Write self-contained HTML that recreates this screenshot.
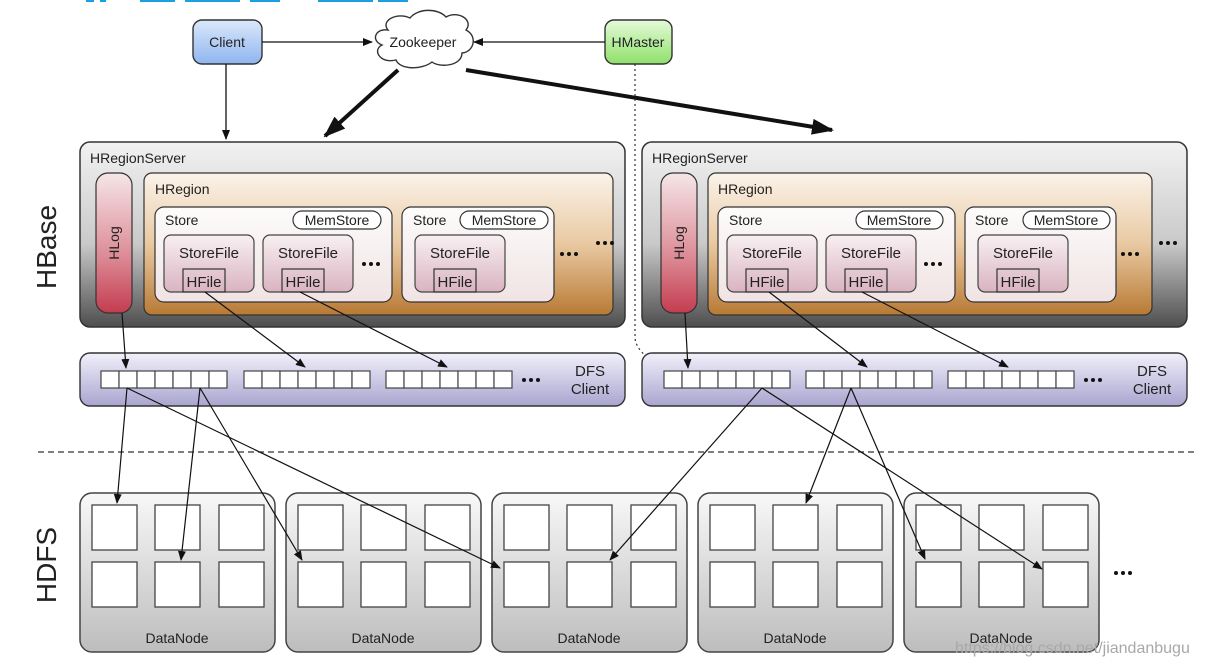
<!DOCTYPE html>
<html><head><meta charset="utf-8"><style>
html,body{margin:0;padding:0;background:#fff;width:1210px;height:665px;overflow:hidden}
svg{display:block}
text{font-family:"Liberation Sans",Arial,sans-serif;fill:#222}
</style></head><body>
<svg width="1210" height="665" viewBox="0 0 1210 665" xmlns="http://www.w3.org/2000/svg">
<defs>
<linearGradient id="gSrv" x1="0" y1="0" x2="0" y2="1"><stop offset="0" stop-color="#f2f2f2"/><stop offset="0.55" stop-color="#c9c9c9"/><stop offset="1" stop-color="#4e4e4e"/></linearGradient>
<linearGradient id="gReg" x1="0" y1="0" x2="0" y2="1"><stop offset="0" stop-color="#fbf3ea"/><stop offset="0.5" stop-color="#e9c9a2"/><stop offset="1" stop-color="#b87a34"/></linearGradient>
<linearGradient id="gLog" x1="0" y1="0" x2="0" y2="1"><stop offset="0" stop-color="#f5e6e8"/><stop offset="0.6" stop-color="#dc8a95"/><stop offset="1" stop-color="#c43c50"/></linearGradient>
<linearGradient id="gStore" x1="0" y1="0" x2="0" y2="1"><stop offset="0" stop-color="#fdfbfb"/><stop offset="1" stop-color="#f0e3e3"/></linearGradient>
<linearGradient id="gSF" x1="0" y1="0" x2="0" y2="1"><stop offset="0" stop-color="#f8f0f2"/><stop offset="1" stop-color="#d9b3c0"/></linearGradient>
<linearGradient id="gDfs" x1="0" y1="0" x2="0" y2="1"><stop offset="0" stop-color="#f1f0fa"/><stop offset="1" stop-color="#a9a5d0"/></linearGradient>
<linearGradient id="gDN" x1="0" y1="0" x2="0" y2="1"><stop offset="0" stop-color="#f8f8f8"/><stop offset="1" stop-color="#bdbdbd"/></linearGradient>
<linearGradient id="gCl" x1="0" y1="0" x2="0" y2="1"><stop offset="0" stop-color="#dbe8fb"/><stop offset="1" stop-color="#8fb5ef"/></linearGradient>
<linearGradient id="gHm" x1="0" y1="0" x2="0" y2="1"><stop offset="0" stop-color="#e5fbd9"/><stop offset="1" stop-color="#8fe06a"/></linearGradient>
<marker id="ah" markerWidth="10" markerHeight="8" refX="9" refY="4" orient="auto" markerUnits="userSpaceOnUse"><path d="M0,0 L10,4 L0,8 z" fill="#111"/></marker>
<marker id="ahb" markerWidth="22" markerHeight="16" refX="20" refY="8" orient="auto" markerUnits="userSpaceOnUse"><path d="M0,0 L22,8 L0,16 z" fill="#111"/></marker>
<g id="dn">
 <rect x="0" y="0" width="195" height="159" rx="12" fill="url(#gDN)" stroke="#444" stroke-width="1.5"/>
 <g fill="#fff" stroke="#444" stroke-width="1.3">
 <rect x="12" y="12" width="45" height="45"/><rect x="75" y="12" width="45" height="45"/><rect x="139" y="12" width="45" height="45"/>
 <rect x="12" y="69" width="45" height="45"/><rect x="75" y="69" width="45" height="45"/><rect x="139" y="69" width="45" height="45"/>
 </g>
 <text x="97" y="150" font-size="14" text-anchor="middle">DataNode</text>
</g>
<g id="cells" fill="#fff" stroke="#444" stroke-width="1.2">
 <rect x="0" y="0" width="18" height="17"/><rect x="18" y="0" width="18" height="17"/><rect x="36" y="0" width="18" height="17"/><rect x="54" y="0" width="18" height="17"/><rect x="72" y="0" width="18" height="17"/><rect x="90" y="0" width="18" height="17"/><rect x="108" y="0" width="18" height="17"/>
</g>
<g id="dots" fill="#111"><circle cx="0" cy="0" r="2"/><circle cx="7" cy="0" r="2"/><circle cx="14" cy="0" r="2"/></g>
<g id="sf">
 <rect x="0" y="0" width="90" height="57" rx="7" fill="url(#gSF)" stroke="#444" stroke-width="1.2"/>
 <text x="45" y="23" font-size="15" text-anchor="middle">StoreFile</text>
 <rect x="19" y="34" width="42" height="23" fill="none" stroke="#333" stroke-width="1.2"/>
 <text x="40" y="52" font-size="15" text-anchor="middle">HFile</text>
</g>
</defs>

<g fill="#1aa0e0"><rect x="86" y="0" width="8" height="2"/><rect x="100" y="0" width="6" height="2"/><rect x="140" y="0" width="35" height="2"/><rect x="185" y="0" width="55" height="2"/><rect x="250" y="0" width="30" height="2"/><rect x="318" y="0" width="55" height="2"/><rect x="378" y="0" width="30" height="2"/></g>

<rect x="193" y="20" width="69" height="44" rx="9" fill="url(#gCl)" stroke="#333" stroke-width="1.4"/>
<text x="227" y="47" font-size="14" text-anchor="middle">Client</text>
<rect x="605" y="20" width="67" height="44" rx="9" fill="url(#gHm)" stroke="#333" stroke-width="1.4"/>
<text x="638" y="47" font-size="14" text-anchor="middle">HMaster</text>
<path d="M388,30 C380,20 398,12 410,18 C418,8 438,8 446,17 C458,10 474,20 466,30 C478,36 474,52 462,53 C462,66 440,68 432,62 C422,70 400,70 396,60 C380,64 372,50 382,45 C370,40 376,28 388,30 z" fill="#fff" stroke="#333" stroke-width="1.4"/>
<text x="423" y="47" font-size="14" text-anchor="middle">Zookeeper</text>

<line x1="262" y1="42" x2="372" y2="42" stroke="#111" stroke-width="1.3" marker-end="url(#ah)"/>
<line x1="605" y1="42" x2="474" y2="42" stroke="#111" stroke-width="1.3" marker-end="url(#ah)"/>
<line x1="226" y1="64" x2="226" y2="139" stroke="#111" stroke-width="1.3" marker-end="url(#ah)"/>
<line x1="398" y1="70" x2="325" y2="136" stroke="#111" stroke-width="4" marker-end="url(#ahb)"/>
<line x1="466" y1="70" x2="832" y2="130" stroke="#111" stroke-width="4" marker-end="url(#ahb)"/>
<path d="M635,64 L635,338 Q636,352 660,366" fill="none" stroke="#333" stroke-width="1.2" stroke-dasharray="2,3" marker-end="url(#ah)"/>

<rect x="80" y="142" width="545" height="185" rx="10" fill="url(#gSrv)" stroke="#333" stroke-width="1.5"/>
<text x="90" y="163" font-size="14">HRegionServer</text>
<rect x="96" y="173" width="36" height="140" rx="12" fill="url(#gLog)" stroke="#333" stroke-width="1.2"/>
<text transform="translate(119,243) rotate(-90)" font-size="14" text-anchor="middle">HLog</text>
<rect x="144" y="173" width="469" height="142" rx="8" fill="url(#gReg)" stroke="#333" stroke-width="1.2"/>
<text x="155" y="194" font-size="14">HRegion</text>
<rect x="155" y="207" width="237" height="95" rx="9" fill="url(#gStore)" stroke="#333" stroke-width="1.2"/>
<text x="165" y="225" font-size="14">Store</text>
<rect x="293" y="211" width="88" height="18" rx="9" fill="#fff" stroke="#333" stroke-width="1.2"/>
<text x="337" y="225" font-size="14" text-anchor="middle">MemStore</text>
<use href="#sf" x="164" y="235"/><use href="#sf" x="263" y="235"/>
<use href="#dots" x="364" y="264"/>
<rect x="402" y="207" width="152" height="95" rx="9" fill="url(#gStore)" stroke="#333" stroke-width="1.2"/>
<text x="413" y="225" font-size="14">Store</text>
<rect x="460" y="211" width="88" height="18" rx="9" fill="#fff" stroke="#333" stroke-width="1.2"/>
<text x="504" y="225" font-size="14" text-anchor="middle">MemStore</text>
<use href="#sf" x="415" y="235"/>
<use href="#dots" x="562" y="254"/><use href="#dots" x="598" y="243"/>

<rect x="642" y="142" width="545" height="185" rx="10" fill="url(#gSrv)" stroke="#333" stroke-width="1.5"/>
<text x="652" y="163" font-size="14">HRegionServer</text>
<rect x="661" y="173" width="36" height="140" rx="12" fill="url(#gLog)" stroke="#333" stroke-width="1.2"/>
<text transform="translate(684,243) rotate(-90)" font-size="14" text-anchor="middle">HLog</text>
<rect x="708" y="173" width="444" height="142" rx="8" fill="url(#gReg)" stroke="#333" stroke-width="1.2"/>
<text x="718" y="194" font-size="14">HRegion</text>
<rect x="718" y="207" width="237" height="95" rx="9" fill="url(#gStore)" stroke="#333" stroke-width="1.2"/>
<text x="729" y="225" font-size="14">Store</text>
<rect x="856" y="211" width="87" height="18" rx="9" fill="#fff" stroke="#333" stroke-width="1.2"/>
<text x="899" y="225" font-size="14" text-anchor="middle">MemStore</text>
<use href="#sf" x="727" y="235"/><use href="#sf" x="826" y="235"/>
<use href="#dots" x="926" y="264"/>
<rect x="965" y="207" width="151" height="95" rx="9" fill="url(#gStore)" stroke="#333" stroke-width="1.2"/>
<text x="975" y="225" font-size="14">Store</text>
<rect x="1023" y="211" width="87" height="18" rx="9" fill="#fff" stroke="#333" stroke-width="1.2"/>
<text x="1066" y="225" font-size="14" text-anchor="middle">MemStore</text>
<use href="#sf" x="978" y="235"/>
<use href="#dots" x="1123" y="254"/><use href="#dots" x="1161" y="243"/>

<rect x="80" y="353" width="545" height="53" rx="10" fill="url(#gDfs)" stroke="#333" stroke-width="1.4"/>
<use href="#cells" x="101" y="371"/><use href="#cells" x="244" y="371"/><use href="#cells" x="386" y="371"/>
<use href="#dots" x="524" y="380"/>
<text x="590" y="376" font-size="15" text-anchor="middle">DFS</text>
<text x="590" y="394" font-size="15" text-anchor="middle">Client</text>
<rect x="642" y="353" width="545" height="53" rx="10" fill="url(#gDfs)" stroke="#333" stroke-width="1.4"/>
<use href="#cells" x="664" y="371"/><use href="#cells" x="806" y="371"/><use href="#cells" x="948" y="371"/>
<use href="#dots" x="1086" y="380"/>
<text x="1152" y="376" font-size="15" text-anchor="middle">DFS</text>
<text x="1152" y="394" font-size="15" text-anchor="middle">Client</text>

<line x1="38" y1="452" x2="1195" y2="452" stroke="#333" stroke-width="1.2" stroke-dasharray="6,4"/>

<text transform="translate(56,247) rotate(-90)" font-size="28" text-anchor="middle">HBase</text>
<text transform="translate(56,565) rotate(-90)" font-size="28" text-anchor="middle">HDFS</text>

<use href="#dn" x="80" y="493"/><use href="#dn" x="286" y="493"/><use href="#dn" x="492" y="493"/><use href="#dn" x="698" y="493"/><use href="#dn" x="904" y="493"/>
<use href="#dots" x="1116" y="573"/>

<g stroke="#111" stroke-width="1.2" fill="none" marker-end="url(#ah)">
<line x1="122" y1="313" x2="126" y2="368"/>
<line x1="205" y1="292" x2="305" y2="367"/>
<line x1="300" y1="292" x2="447" y2="367"/>
<line x1="685" y1="313" x2="688" y2="368"/>
<line x1="769" y1="292" x2="867" y2="367"/>
<line x1="862" y1="292" x2="1008" y2="367"/>
<line x1="127" y1="388" x2="117" y2="503"/>
<line x1="127" y1="388" x2="500" y2="568"/>
<line x1="200" y1="388" x2="181" y2="560"/>
<line x1="200" y1="388" x2="302" y2="560"/>
<line x1="762" y1="388" x2="610" y2="560"/>
<line x1="762" y1="388" x2="1042" y2="569"/>
<line x1="851" y1="388" x2="806" y2="503"/>
<line x1="851" y1="388" x2="925" y2="559"/>
</g>

<text x="955" y="653" font-size="16" style="fill:#a8a8a8">https://blog.csdn.net/jiandanbugu</text>
</svg>
</body></html>
